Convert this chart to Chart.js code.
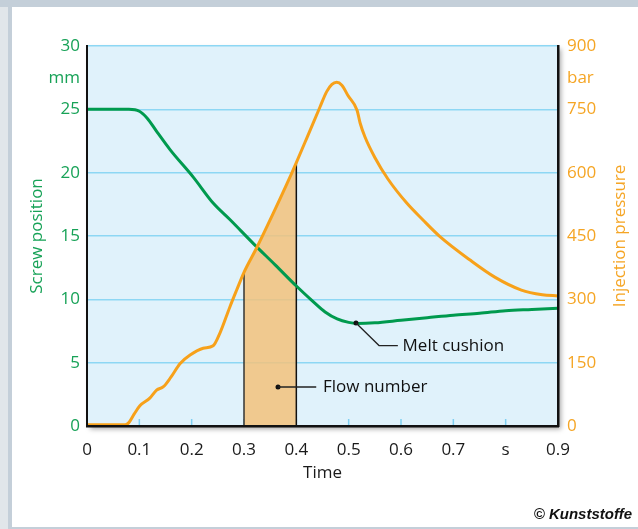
<!DOCTYPE html>
<html lang="en">
<head>
<meta charset="UTF-8">
<title>Screw position and injection pressure</title>
<script src="https://cdn.jsdelivr.net/npm/chart.js"></script>
<style>
  html, body { margin: 0; padding: 0; }
  body { width: 638px; height: 529px; position: relative; overflow: hidden; background: #c4cfd9; }
  #strip { position: absolute; left: 0; top: 7px; width: 8px; bottom: 0; background: #e1e6ea; }
  #panel { position: absolute; left: 12px; top: 7px; right: 0; bottom: 2px; background: #fff; }
  #wrap { position: absolute; left: 0; top: 0; width: 638px; height: 529px; }
  #copy { position: absolute; right: 6px; bottom: 7px; font: italic bold 15px "Liberation Sans", Arial, sans-serif; color: #111; }
</style>
</head>
<body>
<div id="strip"></div>
<div id="panel"></div>
<div id="wrap"><canvas id="myChart" width="638" height="529"></canvas></div>
<div id="copy">© Kunststoffe</div>

<script>
// time axis
const xTickValues = [0, 0.1, 0.2, 0.3, 0.4, 0.5, 0.6, 0.7, 0.8, 0.9];
const xTickLabels = ['0', '0.1', '0.2', '0.3', '0.4', '0.5', '0.6', '0.7', 's', '0.9'];
// left axis (mm)
const screwTicks = [0, 5, 10, 15, 20, 25, 30];
const screwUnit = { value: 27.5, label: 'mm' };
// right axis (bar)
const pressTicks = [0, 150, 300, 450, 600, 750, 900];
const pressUnit = { value: 825, label: 'bar' };

// screw position, mm
const screwTime = [0, 0.08, 0.1, 0.115, 0.134, 0.159, 0.203, 0.241, 0.273, 0.318, 0.36, 0.4, 0.43, 0.455, 0.478, 0.5, 0.516, 0.55, 0.6, 0.65, 0.7, 0.75, 0.8, 0.85, 0.9];
const screwPos  = [25, 25, 24.85, 24.3, 23.2, 21.8, 19.65, 17.6, 16.3, 14.4, 12.7, 11.05, 9.9, 9.0, 8.45, 8.18, 8.1, 8.15, 8.35, 8.55, 8.75, 8.9, 9.1, 9.2, 9.3];

// injection pressure, bar
const pressTime = [0, 0.073, 0.08, 0.09, 0.101, 0.12, 0.133, 0.146, 0.16, 0.178, 0.197, 0.222, 0.241, 0.254, 0.273, 0.286, 0.3, 0.325, 0.356, 0.388, 0.4, 0.42, 0.445, 0.458, 0.468, 0.477, 0.487, 0.499, 0.516, 0.522, 0.531, 0.55, 0.575, 0.611, 0.642, 0.675, 0.732, 0.78, 0.83, 0.87, 0.9];
const pressBar  = [3, 3, 8, 28, 48, 66, 85, 93, 115, 148, 168, 184, 190, 220, 282, 322, 364, 424, 504, 590, 624, 682, 755, 792, 809, 814, 807, 782, 748, 717, 685, 636, 585, 528, 488, 448, 393, 352, 322, 311, 308];

// flow number window, s
const flowStart = 0.3;
const flowEnd = 0.4;
// melt cushion point
const cushionTime = 0.514;
const cushionPos = 8.13;

const green = '#009a4e';
const greenText = '#17a257';
const orange = '#f7a11a';
const orangeText = '#f5a524';
const fontFamily = '"Open Sans", "Noto Sans", sans-serif';

const pressPoints = pressTime.map((t, i) => ({ x: t, y: pressBar[i] }));
const screwPoints = screwTime.map((t, i) => ({ x: t, y: screwPos[i] }));
const flowPoints = pressPoints.filter(p => p.x >= flowStart && p.x <= flowEnd);
const pressAt = t => pressPoints.find(p => p.x === t).y;

// plot background with shadow
const framePlugin = {
    id: 'frame',
    beforeDraw(chart) {
        const { ctx, chartArea: a } = chart;
        ctx.save();
        ctx.shadowColor = 'rgba(0,0,0,0.35)';
        ctx.shadowBlur = 5;
        ctx.shadowOffsetX = 3;
        ctx.shadowOffsetY = 3;
        ctx.fillStyle = '#e0f2fb';
        ctx.fillRect(a.left, a.top, a.right - a.left, a.bottom - a.top);
        ctx.restore();
    },
    beforeDatasetsDraw(chart) {
        // short inner tick marks on the time axis
        const { ctx, chartArea: a, scales } = chart;
        ctx.save();
        ctx.strokeStyle = '#7fd0f2';
        ctx.lineWidth = 1.5;
        xTickValues.slice(1, -1).forEach(v => {
            const x = scales.x.getPixelForValue(v);
            ctx.beginPath();
            ctx.moveTo(x, a.bottom);
            ctx.lineTo(x, a.bottom - 7);
            ctx.stroke();
        });
        ctx.restore();
    },
    afterDatasetsDraw(chart) {
        const { ctx, scales } = chart;
        const xs = v => scales.x.getPixelForValue(v);
        const ys = v => scales.yL.getPixelForValue(v);
        ctx.save();
        ctx.strokeStyle = '#222';
        ctx.fillStyle = '#111';
        ctx.lineWidth = 1.3;
        ctx.font = '17px ' + fontFamily;
        ctx.textBaseline = 'middle';
        ctx.textAlign = 'left';

        // melt cushion leader
        const cy = ys(6.35);
        ctx.beginPath();
        ctx.moveTo(xs(cushionTime), ys(cushionPos));
        ctx.lineTo(xs(0.558), cy);
        ctx.lineTo(xs(0.594), cy);
        ctx.stroke();
        ctx.fillText('Melt cushion', xs(0.603), cy + 1);

        // flow number leader
        const fy = ys(3.08);
        ctx.beginPath();
        ctx.arc(xs(0.365), fy, 2.5, 0, Math.PI * 2);
        ctx.fill();
        ctx.beginPath();
        ctx.moveTo(xs(0.365), fy);
        ctx.lineTo(xs(0.438), fy);
        ctx.stroke();
        ctx.fillText('Flow number', xs(0.451), fy);
        ctx.restore();
    },
    afterDraw(chart) {
        // right axis title reads bottom-to-top like the left one
        const { ctx, chartArea: a } = chart;
        ctx.save();
        ctx.translate(a.right + 62, (a.top + a.bottom) / 2);
        ctx.rotate(-Math.PI / 2);
        ctx.textAlign = 'center';
        ctx.textBaseline = 'middle';
        ctx.fillStyle = orangeText;
        ctx.font = '17px ' + fontFamily;
        ctx.fillText('Injection pressure', 0, 0);
        ctx.restore();
    }
};

const ctx = document.querySelector('#myChart').getContext('2d');

const myChart = new Chart(ctx, {
    type: 'line',
    data: {
        datasets: [
            {
                label: 'Injection pressure',
                data: pressPoints,
                yAxisID: 'yR',
                borderColor: orange,
                borderWidth: 3,
                pointRadius: 0,
                cubicInterpolationMode: 'monotone',
                order: 1
            },
            {
                label: 'Screw position',
                data: screwPoints,
                yAxisID: 'yL',
                borderColor: green,
                borderWidth: 3,
                pointRadius: 0,
                cubicInterpolationMode: 'monotone',
                order: 2
            },
            {
                label: 'Flow number',
                data: flowPoints,
                yAxisID: 'yR',
                borderWidth: 0,
                borderColor: 'rgba(0,0,0,0)',
                backgroundColor: 'rgba(242,194,123,0.85)',
                fill: 'origin',
                pointRadius: 0,
                cubicInterpolationMode: 'monotone',
                order: 5
            },
            {
                label: 'start',
                data: [{ x: flowStart, y: 0 }, { x: flowStart, y: pressAt(flowStart) }],
                yAxisID: 'yR',
                borderColor: '#333',
                borderWidth: 1.5,
                pointRadius: 0,
                order: 3
            },
            {
                label: 'end',
                data: [{ x: flowEnd, y: 0 }, { x: flowEnd, y: pressAt(flowEnd) }],
                yAxisID: 'yR',
                borderColor: '#111',
                borderWidth: 1.5,
                pointRadius: 0,
                order: 3
            },
            {
                label: 'Melt cushion',
                data: [{ x: cushionTime, y: cushionPos }],
                yAxisID: 'yL',
                showLine: false,
                pointRadius: 2.5,
                pointBackgroundColor: '#111',
                pointBorderWidth: 0,
                order: 0
            }
        ]
    },
    options: {
        responsive: false,
        animation: false,
        layout: { padding: { left: 12, right: 0, top: 46, bottom: 30 } },
        plugins: { legend: { display: false }, tooltip: { enabled: false } },
        scales: {
            x: {
                type: 'linear',
                min: 0,
                max: 0.9,
                afterBuildTicks: s => { s.ticks = xTickValues.map(v => ({ value: v })); },
                afterFit: s => { s.height = 73; },
                grid: { display: false },
                border: { color: '#111', width: 2.5, z: 1 },
                ticks: {
                    padding: 6,
                    color: '#1a1a1a',
                    font: { family: fontFamily, size: 17 },
                    maxRotation: 0,
                    autoSkip: false,
                    callback: (v, i) => xTickLabels[i]
                },
                title: {
                    display: true,
                    text: 'Time',
                    color: '#1a1a1a',
                    font: { family: fontFamily, size: 17 },
                    padding: { top: 0, bottom: 16 }
                }
            },
            yL: {
                type: 'linear',
                position: 'left',
                min: 0,
                max: 30,
                afterBuildTicks: s => {
                    s.ticks = screwTicks.concat(screwUnit.value).sort((a, b) => a - b).map(v => ({ value: v }));
                },
                afterFit: s => { s.width = 75; },
                grid: {
                    drawTicks: false,
                    lineWidth: 1.6,
                    color: c => (c.tick && (c.tick.value === screwUnit.value || c.tick.value === 0)) ? 'rgba(0,0,0,0)' : '#8dd7f4'
                },
                border: { color: '#111', width: 2, z: 1 },
                ticks: {
                    padding: 7,
                    color: greenText,
                    autoSkip: false,
                    font: { family: fontFamily, size: 17 },
                    callback: v => v === screwUnit.value ? screwUnit.label : String(v)
                },
                title: {
                    display: true,
                    text: 'Screw position',
                    color: greenText,
                    font: { family: fontFamily, size: 17 },
                    padding: { top: 15, bottom: 0 }
                }
            },
            yR: {
                type: 'linear',
                position: 'right',
                min: 0,
                max: 900,
                afterBuildTicks: s => {
                    s.ticks = pressTicks.concat(pressUnit.value).sort((a, b) => a - b).map(v => ({ value: v }));
                },
                afterFit: s => { s.width = 80; },
                grid: { display: false, drawTicks: false },
                border: { color: '#111', width: 2.5, z: 1 },
                ticks: {
                    padding: 9,
                    color: orangeText,
                    autoSkip: false,
                    font: { family: fontFamily, size: 17 },
                    callback: v => v === pressUnit.value ? pressUnit.label : String(v)
                }
            }
        }
    },
    plugins: [framePlugin]
});
</script>
</body>
</html>
